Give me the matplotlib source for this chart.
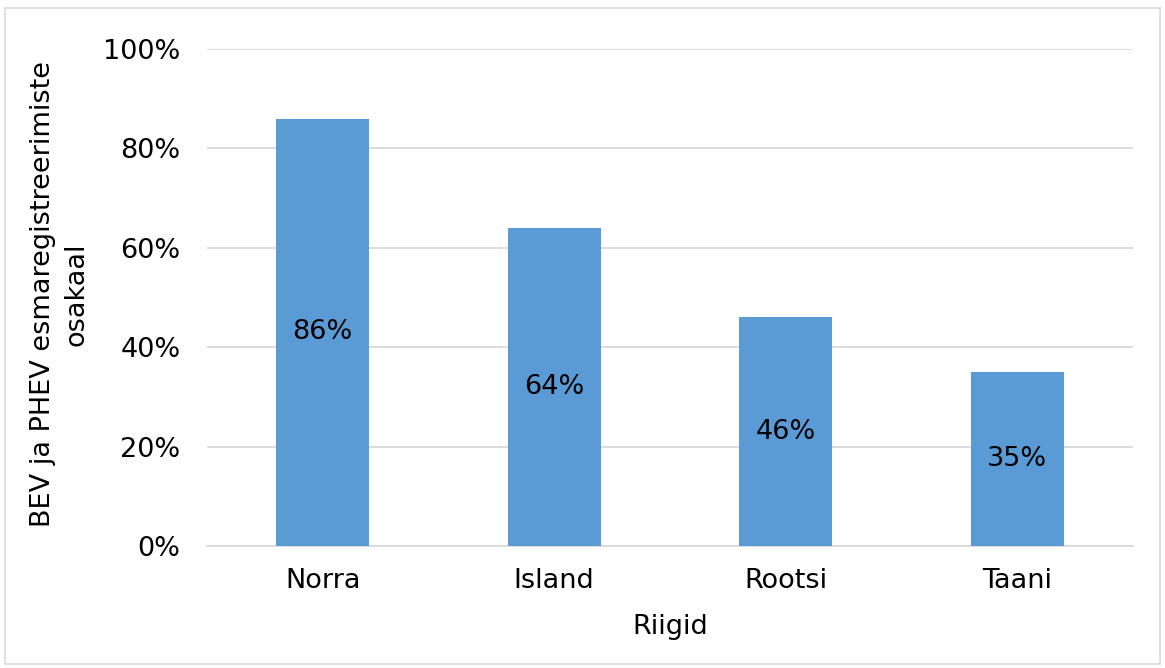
import matplotlib.pyplot as plt
from matplotlib.patches import Rectangle
from matplotlib.ticker import FuncFormatter

riigid = ["Norra", "Island", "Rootsi", "Taani"]
osakaal = [86, 64, 46, 35]

plt.rcParams['font.family'] = ['DejaVu Sans']
fs = 19.5

fig = plt.figure(figsize=(11.65, 6.68), dpi=100)
ax = fig.add_axes([207/1165, 1 - 546/668, 926/1165, 497/668])

x = range(len(riigid))
bars = ax.bar(x, osakaal, width=0.40, color="#5B9BD5", zorder=3)
for b, v in zip(bars, osakaal):
    ax.text(b.get_x() + b.get_width()/2, v/2, f"{v}%", ha="center", va="center",
            fontsize=fs, color="black", zorder=4)

ax.set_xlim(-0.5, len(riigid) - 0.5)
ax.set_ylim(0, 100)
ax.set_yticks(range(0, 101, 20))
ax.yaxis.set_major_formatter(FuncFormatter(lambda v, p: f"{v:.0f}%"))
ax.set_xticks(list(x))
ax.set_xticklabels(riigid)
ax.tick_params(axis="both", length=0, labelsize=fs, colors="black")
ax.tick_params(axis="y", pad=19)
ax.tick_params(axis="x", pad=16)
ax.grid(axis="y", color="#D9D9D9", linewidth=1.3, zorder=0)
for s in ["top", "right", "left"]:
    ax.spines[s].set_visible(False)
ax.spines["bottom"].set_color("#D9D9D9")
ax.spines["bottom"].set_linewidth(1.3)

ax.set_xlabel("Riigid", fontsize=fs, labelpad=14)
fig.text(60/1165, 1 - 294/668, "BEV ja PHEV esmaregistreerimiste\nosakaal",
         rotation=90, ha="center", va="center", fontsize=fs, linespacing=1.35)

fig.patches.append(Rectangle((5/1165, 4/668), 1155/1165, 656/668, transform=fig.transFigure,
                             fill=False, edgecolor="#D9D9D9", linewidth=1.2))

fig.savefig("out.png", dpi=100)
